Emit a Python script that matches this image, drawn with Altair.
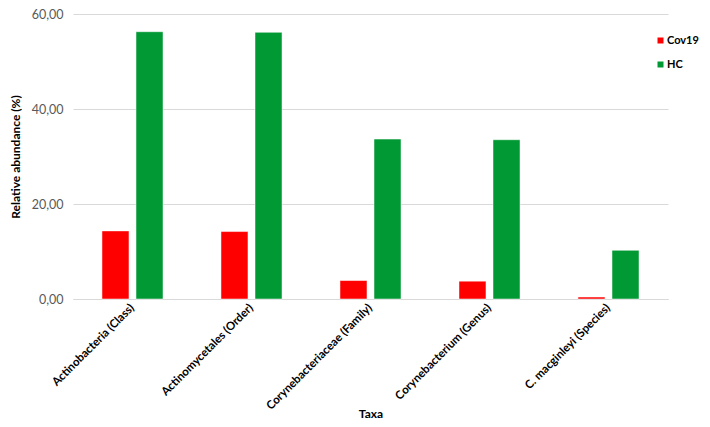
import altair as alt
import pandas as pd

taxa = ["Actinobacteria (Class)", "Actinomycetales (Order)", "Corynebacteriaceae (Family)",
        "Corynebacterium (Genus)", "C. macginleyi (Species)"]
cov19 = [14.34, 14.20, 3.89, 3.75, 0.41]
hc = [56.27, 56.14, 33.67, 33.53, 10.25]
groups = ["Cov19", "HC"]
colors = ["#FF0000", "#009933"]

rows = []
for t, c, h in zip(taxa, cov19, hc):
    rows.append({"Taxa": t, "Group": "Cov19", "Value": c})
    rows.append({"Taxa": t, "Group": "HC", "Value": h})
df = pd.DataFrame(rows)

font = "Lato"

chart = alt.Chart(df).mark_bar(stroke="white", strokeWidth=0.5).encode(
    x=alt.X("Taxa:N", sort=taxa, title="Taxa",
            scale=alt.Scale(paddingInner=0.487, paddingOuter=0.2435),
            axis=alt.Axis(labelAngle=-45, labelAlign="right", labelBaseline="middle",
                          labelFont=font, labelFontWeight="bold", labelFontSize=11.5,
                          labelColor="#000000", ticks=False, domain=True,
                          domainColor="#d9d9d9", labelPadding=7, labelOffset=0,
                          titleFont=font, titleFontWeight="bold", titleFontSize=12,
                          titleColor="#000000", titleY=114, titleBaseline="middle")),
    xOffset=alt.XOffset("Group:N", sort=groups,
                        scale=alt.Scale(paddingInner=0.206, paddingOuter=0)),
    y=alt.Y("Value:Q", title="Relative abundance (%)",
            scale=alt.Scale(domain=[0, 60]),
            axis=alt.Axis(values=[0, 20, 40, 60],
                          labelExpr="replace(format(datum.value, '.2f'), '.', ',')",
                          labelFont=font, labelFontSize=12.5, labelColor="#595959",
                          ticks=False, domain=False, gridColor="#d9d9d9",
                          labelPadding=10,
                          titleFont=font, titleFontWeight="bold", titleFontSize=12,
                          titleColor="#000000", titlePadding=9)),
    color=alt.Color("Group:N", sort=groups,
                    scale=alt.Scale(domain=groups, range=colors),
                    legend=alt.Legend(title=None, orient="none", legendX=582, legendY=21,
                                      symbolType="square", symbolSize=36,
                                      symbolStrokeWidth=0, labelOffset=1,
                                      labelFont=font, labelFontWeight="bold",
                                      labelFontSize=11, labelColor="#000000",
                                      rowPadding=12)),
).properties(
    width=595, height=285,
    autosize=alt.AutoSizeParams(type="none"),
    padding={"left": 65, "top": 6, "right": 34, "bottom": 120},
).configure_view(stroke=None)

chart.save("out.html", embed_options={"renderer": "svg", "actions": False})
